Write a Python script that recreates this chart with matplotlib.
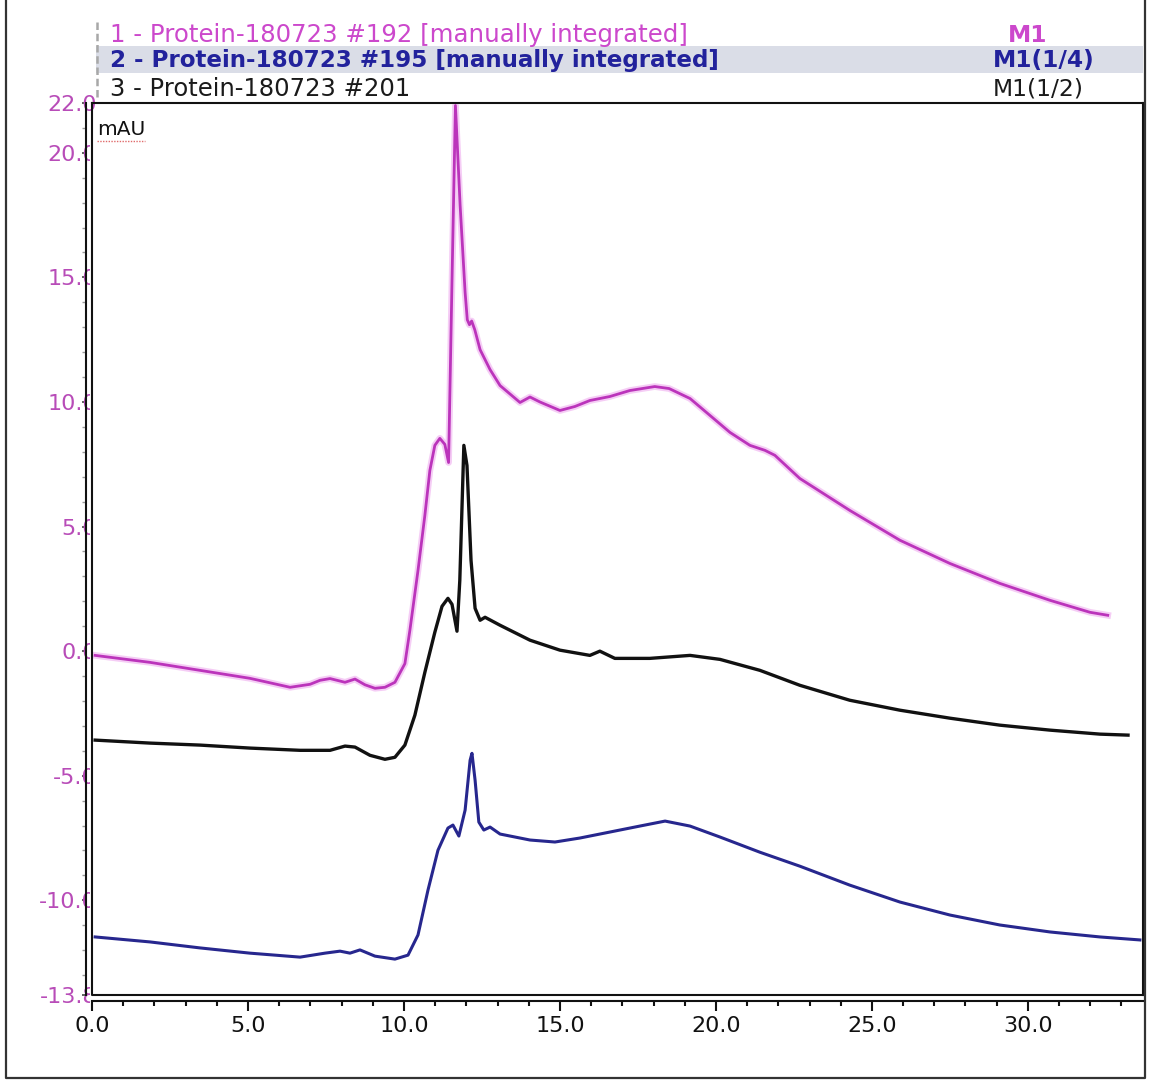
import matplotlib
matplotlib.use("Agg")
import matplotlib.pyplot as plt
from matplotlib.axes import Axes
from matplotlib.figure import Figure
from matplotlib.lines import Line2D
from matplotlib.patches import Rectangle
from matplotlib.ticker import MultipleLocator
from matplotlib.transforms import Bbox, TransformedBbox

FIG_W, FIG_H = 1150, 1080

# retention time (min) and absorbance (mAU) per injection
t_192 = [0.10, 1.86, 3.46, 5.06, 6.35, 6.99, 7.31, 7.63, 8.11, 8.43, 8.75, 9.07,
         9.39, 9.71, 10.03, 10.19, 10.45, 10.67, 10.83, 10.99, 11.15, 11.31,
         11.43, 11.54, 11.65, 11.80, 11.96, 12.03, 12.10, 12.17, 12.27, 12.44,
         12.76, 13.08, 13.72, 14.04, 14.36, 15.00, 15.48, 15.96, 16.60, 17.24,
         18.04, 18.50, 19.17, 19.81, 20.45, 21.09, 21.57, 21.89, 22.69, 24.29,
         25.90, 27.50, 29.10, 30.71, 31.99, 32.56]
mau_192 = [-0.17, -0.45, -0.77, -1.09, -1.45, -1.33, -1.17, -1.10, -1.25, -1.12,
           -1.35, -1.49, -1.45, -1.25, -0.50, 0.84, 3.24, 5.45, 7.25, 8.26, 8.54,
           8.30, 7.57, 14.87, 21.90, 17.90, 14.40, 13.30, 13.10, 13.25, 12.90,
           12.10, 11.30, 10.66, 9.98, 10.20, 10.00, 9.66, 9.82, 10.06, 10.22,
           10.46, 10.62, 10.54, 10.14, 9.46, 8.78, 8.26, 8.06, 7.86, 6.93, 5.65,
           4.45, 3.52, 2.72, 2.04, 1.56, 1.44]

t_195 = [0.10, 1.86, 3.46, 5.06, 6.67, 7.47, 7.95, 8.27, 8.59, 9.07, 9.71, 10.13,
         10.45, 10.77, 11.09, 11.41, 11.57, 11.76, 11.96, 12.12, 12.18, 12.28,
         12.40, 12.56, 12.76, 13.08, 14.04, 14.84, 15.64, 16.60, 17.56, 18.37,
         19.17, 20.13, 21.41, 22.69, 24.29, 25.90, 27.50, 29.10, 30.71, 32.31,
         33.59]
mau_195 = [-11.47, -11.67, -11.91, -12.12, -12.28, -12.12, -12.04, -12.12, -11.99,
           -12.24, -12.36, -12.20, -11.39, -9.59, -7.99, -7.10, -6.98, -7.42,
           -6.38, -4.38, -4.10, -5.18, -6.86, -7.18, -7.06, -7.34, -7.58, -7.66,
           -7.50, -7.26, -7.02, -6.82, -7.02, -7.46, -8.07, -8.63, -9.39, -10.07,
           -10.59, -10.99, -11.27, -11.47, -11.59]

t_201 = [0.10, 1.86, 3.46, 5.06, 6.67, 7.63, 8.11, 8.43, 8.91, 9.39, 9.71, 10.03,
         10.35, 10.67, 10.99, 11.22, 11.41, 11.54, 11.70, 11.79, 11.92, 12.02,
         12.15, 12.28, 12.44, 12.60, 13.08, 14.04, 15.00, 15.96, 16.28, 16.76,
         17.88, 19.17, 20.13, 21.41, 22.69, 24.29, 25.90, 27.50, 29.10, 30.71,
         32.31, 33.21]
mau_201 = [-3.57, -3.69, -3.77, -3.89, -3.98, -3.98, -3.81, -3.85, -4.18, -4.34,
           -4.26, -3.77, -2.57, -0.85, 0.76, 1.80, 2.12, 1.88, 0.80, 2.84, 8.26,
           7.45, 3.64, 1.72, 1.24, 1.36, 1.04, 0.44, 0.04, -0.17, 0.00, -0.29,
           -0.29, -0.17, -0.33, -0.77, -1.37, -1.97, -2.37, -2.69, -2.97, -3.17,
           -3.33, -3.37]

trace_names = ["1 - Protein-180723 #192 [manually integrated]",
               "2 - Protein-180723 #195 [manually integrated]",
               "3 - Protein-180723 #201"]
trace_methods = ["M1", "M1(1/4)", "M1(1/2)"]

x_ticks = [0.0, 5.0, 10.0, 15.0, 20.0, 25.0, 30.0]
x_labels = ["0.0", "5.0", "10.0", "15.0", "20.0", "25.0", "30.0"]
y_ticks = [22.0, 20.0, 15.0, 10.0, 5.0, 0.0, -5.0, -10.0, -13.8]
y_labels = ["22.0", "20.0", "15.0", "10.0", "5.0", "0.0", "-5.0", "-10.0", "-13.8"]

MAGENTA = "#bb34bb"
BLUE = "#27278e"
BLACK = "#111111"

# plot frame in pixels
AX_L, AX_R, AX_T, AX_B = 92, 1143, 103, 995


def _fig_xy(x: float, y: float) -> tuple[float, float]:
    return x / FIG_W, 1 - y / FIG_H


def _header(fig: Figure) -> None:
    # selected row of the trace list
    x0, y0 = _fig_xy(96, 73)
    fig.add_artist(Rectangle((x0, y0), (AX_R - 96) / FIG_W, 27 / FIG_H,
                             transform=fig.transFigure, facecolor="#dadde7",
                             edgecolor="none", zorder=0))
    # little grip to the left of the list
    fig.add_artist(Line2D([97 / FIG_W] * 2, [1 - 22 / FIG_H, 1 - 98 / FIG_H],
                          transform=fig.transFigure, color="#a8a8a8", lw=1.8,
                          linestyle=(0, (3, 1.5))))

    rows_y = [35, 60, 89]
    colors = ["#cc48cc", "#22229c", "#1a1a1a"]
    weights = ["normal", "bold", "normal"]
    sizes = [17.6, 16.6, 17.5]
    method_x = [1028, 993, 993]
    method_ha = ["center", "left", "left"]
    method_weights = ["bold", "bold", "normal"]
    for i, name in enumerate(trace_names):
        fig.text(*_fig_xy(110, rows_y[i]), name, color=colors[i],
                 fontsize=sizes[i], fontweight=weights[i], va="center", ha="left")
        fig.text(*_fig_xy(method_x[i], rows_y[i]), trace_methods[i],
                 color=colors[i], fontsize=16.8, fontweight=method_weights[i],
                 va="center", ha=method_ha[i])


def _outer_frame(fig: Figure) -> None:
    xs = [6 / FIG_W, 6 / FIG_W, 1145 / FIG_W, 1145 / FIG_W]
    ys = [1.0, 1 - 1078 / FIG_H, 1 - 1078 / FIG_H, 1.0]
    fig.add_artist(Line2D(xs, ys, transform=fig.transFigure,
                          color="#333333", lw=1.6))


def _style_axes(ax: Axes, fig: Figure) -> None:
    ax.set_xlim(0, 33.69)
    ax.set_ylim(-13.8, 22.0)

    for side in ["top", "right", "left", "bottom"]:
        ax.spines[side].set_linewidth(1.5)
        ax.spines[side].set_color("#111111")
    # double line along the left and bottom edges
    ax.spines["left"].set_position(("outward", 4.3))
    ax.spines["bottom"].set_position(("outward", 4.3))
    ax.add_line(Line2D([0, 0, 1], [1, 0, 0], transform=ax.transAxes,
                       color="#111111", lw=1.5, clip_on=False))

    ax.set_xticks(x_ticks, labels=x_labels)
    ax.xaxis.set_minor_locator(MultipleLocator(1.0))
    ax.tick_params(axis="x", which="major", length=7, width=1.5,
                   labelsize=16, pad=3.5, colors="#111111")
    ax.tick_params(axis="x", which="minor", length=3.5, width=1.5,
                   colors="#111111")

    ax.set_yticks(y_ticks, labels=y_labels)
    ax.yaxis.set_minor_locator(MultipleLocator(1.0))
    ax.tick_params(axis="y", which="major", length=3, width=1.2,
                   labelsize=16, pad=-10.9, colors="#444444",
                   labelcolor="#b84cb8")
    ax.tick_params(axis="y", which="minor", length=3, width=1.0,
                   colors="#9a9a9a")

    # the labels run under the plot area, only the part left of it shows
    clip = TransformedBbox(Bbox([[0, 0], [(AX_L - 2) / FIG_W, 1 - AX_T / FIG_H]]),
                           fig.transFigure)
    for lbl in ax.get_yticklabels():
        if lbl.get_text() != "22.0":
            lbl.set_clip_box(clip)
            lbl.set_clip_on(True)

    ax.text(0.005, 0.97, "mAU", transform=ax.transAxes, fontsize=14.5,
            color="#111111", ha="left", va="center")
    ax.plot([0.005, 0.05], [0.957, 0.957], transform=ax.transAxes,
            color="#e06a6a", lw=1.0, linestyle=(0, (1, 1)))


def main():
    plt.rcParams["font.family"] = ["DejaVu Sans"]

    fig = plt.figure(figsize=(FIG_W / 100, FIG_H / 100), dpi=100)
    ax = fig.add_axes([AX_L / FIG_W, 1 - AX_B / FIG_H,
                       (AX_R - AX_L) / FIG_W, (AX_B - AX_T) / FIG_H])

    # pink glow under trace 1, then the three traces
    ax.plot(t_192, mau_192, color="#eea4ee", lw=4.8, alpha=0.55,
            solid_joinstyle="round")
    ax.plot(t_192, mau_192, color=MAGENTA, lw=2.0, solid_joinstyle="round")
    ax.plot(t_201, mau_201, color=BLACK, lw=2.4, solid_joinstyle="round")
    ax.plot(t_195, mau_195, color=BLUE, lw=2.2, solid_joinstyle="round")

    _style_axes(ax, fig)
    _header(fig)
    _outer_frame(fig)

    fig.savefig("out.png", dpi=100)


if __name__ == "__main__":
    main()
